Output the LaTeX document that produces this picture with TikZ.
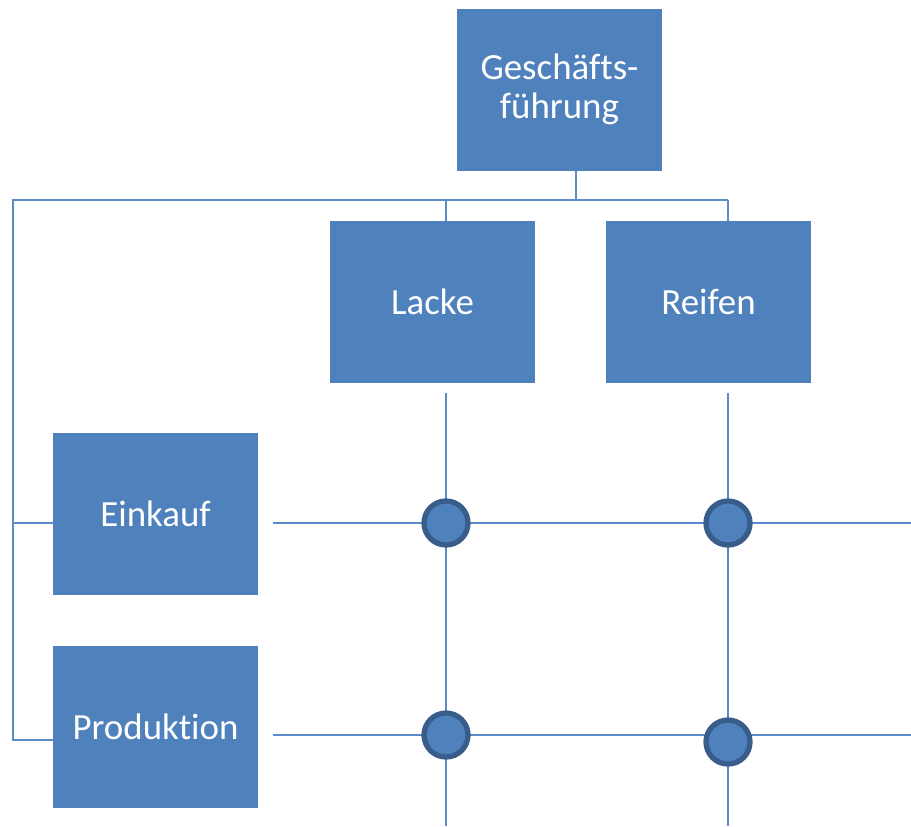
\documentclass[tikz,border=0pt]{standalone}
\usepackage{fontspec}
\setmainfont{Carlito}[Ligatures={NoCommon}]
\usetikzlibrary{calc}
\definecolor{boxblue}{HTML}{4F81BD}
\definecolor{lineblue}{HTML}{5B8BC9}
\definecolor{ringblue}{HTML}{385D8A}

\begin{document}
\begin{tikzpicture}[x=0.2mm, y=-0.2mm,
  unit/.style={rectangle, fill=boxblue, text=white, minimum width=4.1cm,
    minimum height=3.24cm, inner sep=0pt, align=center,
    font=\fontsize{21}{22}\selectfont},
  link/.style={draw=lineblue, line width=1.4pt},
  knot/.style={circle, fill=boxblue, draw=ringblue, line width=3pt,
    minimum size=0.88cm, inner sep=0pt}]
\useasboundingbox (0,0) rectangle (911,826);
% boxes
\node[unit] (gf) at (559.5,89.5) {Geschäfts-\\führung};
\node[unit] (lacke) at (432.5,302) {Lacke};
\node[unit] (reifen) at (708.5,302) {Reifen};
\node[unit] (einkauf) at (155.5,514) {Einkauf};
\node[unit] (prod) at (155.5,727) {Produktion};
% bus points
\coordinate (gfb) at (576,200);
\coordinate (busl) at (13,200);
\coordinate (busr) at (728,200);
\coordinate (busm) at (446,200);
\coordinate (ein) at (13,523);
\coordinate (pin) at (13,740);
% matrix lines
\coordinate (l1) at (446,393);
\coordinate (l2) at (446,826);
\coordinate (r1) at (728,393);
\coordinate (r2) at (728,826);
\coordinate (e1) at (273,523);
\coordinate (e2) at (911,523);
\coordinate (p1) at (273,735);
\coordinate (p2) at (911,735);
\draw[link] (gf.south -| gfb) -- (gfb);
\draw[link] (busm) -- (busm |- lacke.north);
\draw[link] (busr) -- (busr |- reifen.north);
\draw[link] (busr) -- (busl) -- (pin) -- (pin -| prod.west);
\draw[link] (ein) -- (ein -| einkauf.west);
\draw[link] (l1) -- (l2);
\draw[link] (r1) -- (r2);
\draw[link] (e1) -- (e2);
\draw[link] (p1) -- (p2);
% crossings
\node[knot] (k11) at (446,523) {};
\node[knot] (k12) at (728,523) {};
\node[knot] (k21) at (446,735) {};
\node[knot] (k22) at (728,742) {};
\end{tikzpicture}
\end{document}
